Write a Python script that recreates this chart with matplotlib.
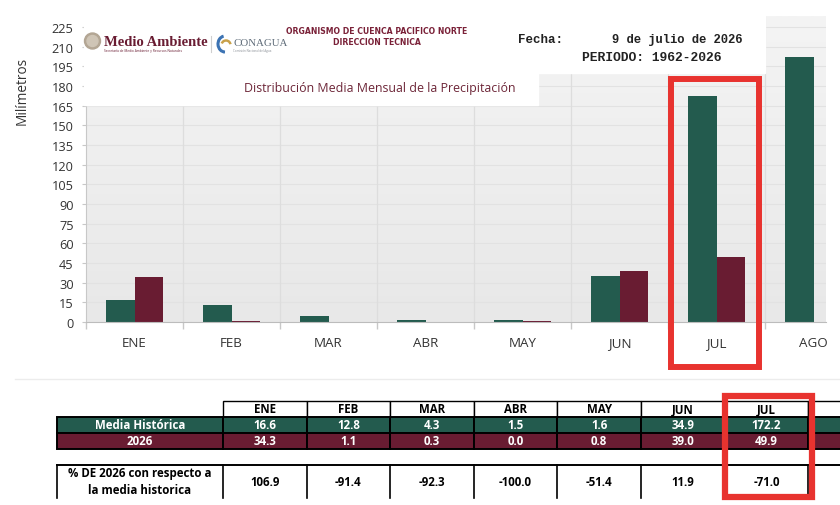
#!/usr/bin/env python3
import numpy as np
import matplotlib
matplotlib.use('Agg')
import matplotlib.pyplot as plt
from matplotlib.patches import Rectangle, Circle, Arc
from matplotlib.colors import LinearSegmentedColormap

matplotlib.rcParams.update({'font.family': ['Open Sans', 'DejaVu Sans']})

# datos
meses = ['ENE', 'FEB', 'MAR', 'ABR', 'MAY', 'JUN', 'JUL', 'AGO']
media_historica = [16.6, 12.8, 4.3, 1.5, 1.6, 34.9, 172.2, 202.0]
anio_2026 = [34.3, 1.1, 0.3, 0.0, 0.8, 39.0, 49.9]
porcentaje = [106.9, -91.4, -92.3, -100.0, -51.4, 11.9, -71.0]
yticks = list(range(0, 226, 15))

VERDE = '#235B4E'
GUINDA = '#691C32'
ROJO = '#e8332f'

W, H = 840, 506
fig = plt.figure(figsize=[W / 100, H / 100], dpi=100)
fig.patch.set_facecolor('white')

# --- grafica de barras ---
ax = fig.add_axes([86 / W, (H - 323) / H, (826 - 86) / W, (323 - 17) / H])
x = np.arange(len(meses))
xmin, xmax = -0.5, -0.5 + 740 / 97
ymax = 233.5

grad = LinearSegmentedColormap.from_list('fondo', ['#e8e8e8', '#f4f4f4'])
ax.imshow(np.linspace(0, 1, 256).reshape(-1, 1), cmap=grad, origin='lower',
          extent=[xmin, xmax, 0, ymax], aspect='auto', zorder=0)

for yv in yticks[1:]:
    ax.axhline(yv, color='#e2e2e2', lw=0.8, zorder=1)
for xv in np.arange(0.5, 7.5, 1):
    ax.axvline(xv, color='#dddddd', lw=0.9, zorder=1)

bw = 0.289
ax.bar(x - bw / 2, media_historica, width=bw, color=VERDE, zorder=2)
ax.bar(x[:len(anio_2026)] + bw / 2, anio_2026, width=bw, color=GUINDA, zorder=2)

ax.set_xlim(xmin, xmax)
ax.set_ylim(0, ymax)
ax.set_xticks(x)
ax.set_xticklabels(meses)
ax.set_xticks(np.arange(-0.5, 7.5, 1), minor=True)
ax.tick_params(axis='x', which='major', length=0, pad=10, labelsize=9.6, labelcolor='#333333')
ax.tick_params(axis='x', which='minor', length=5, color='#c8c8c8', width=1)
ax.set_yticks(yticks)
ax.tick_params(axis='y', length=3, color='#c8c8c8', pad=6, labelsize=9.2, labelcolor='#333333')
for s in ['top', 'right']:
    ax.spines[s].set_visible(False)
ax.spines['left'].set_color('#c8c8c8')
ax.spines['bottom'].set_color('#bcbcbc')
ax.set_ylabel('Milímetros', fontsize=9.8, color='#333333')
ax.yaxis.set_label_coords((30 - 86) / 740, (323 - 91) / 306)

# --- capa superior en pixeles ---
ov = fig.add_axes([0, 0, 1, 1], zorder=5)
ov.set_xlim(0, W)
ov.set_ylim(H, 0)
ov.axis('off')
ov.patch.set_alpha(0)

ov.add_patch(Rectangle((84, 0), 538 - 84, 106, color='white', zorder=1))
ov.add_patch(Rectangle((538, 0), 765 - 538, 74, color='white', zorder=1))

# logos
ov.add_patch(Circle((92.5, 42), 8, color='#b3a694', zorder=2))
ov.add_patch(Circle((92.5, 42), 5.5, color='#cfc5b6', zorder=3))
ov.text(104, 42, 'Medio Ambiente', family='Liberation Serif', weight='bold', fontsize=10.5,
        color=GUINDA, va='center', ha='left', zorder=3)
ov.text(104, 51, 'Secretaría de Medio Ambiente y Recursos Naturales', fontsize=2.3,
        color=GUINDA, va='center', ha='left', zorder=3)
ov.plot([211, 211], [37, 53], color='#cfcfcf', lw=0.8, zorder=3)
ov.add_patch(Arc((225, 45), 14, 16, theta1=90, theta2=260, color='#3c73b3', lw=2.2, zorder=3))
ov.add_patch(Arc((226, 46), 9, 9, theta1=200, theta2=350, color='#c9a14a', lw=1.8, zorder=3))
ov.text(233, 43, 'CONAGUA', family='Liberation Serif', fontsize=7.8, color='#5e6b78',
        va='center', ha='left', zorder=3)
ov.text(233, 51, 'Comisión Nacional del Agua', fontsize=2.2, color='#8a8f96',
        va='center', ha='left', zorder=3)

ov.text(377, 31, 'ORGANISMO DE CUENCA PACIFICO NORTE', family='Liberation Sans Narrow',
        weight='bold', fontsize=5.6, color='#7a2138', ha='center', va='center', zorder=3)
ov.text(377, 42.5, 'DIRECCION TECNICA', family='Liberation Sans Narrow',
        weight='bold', fontsize=5.6, color='#7a2138', ha='center', va='center', zorder=3)

ov.text(518, 40, 'Fecha:', family='Liberation Mono', weight='bold', fontsize=9,
        color='#222222', ha='left', va='center', zorder=3)
ov.text(742, 40, '9 de julio de 2026', family='Liberation Mono', weight='bold', fontsize=8.7,
        color='#222222', ha='right', va='center', zorder=3)
ov.text(582, 58, 'PERIODO: 1962-2026', family='Liberation Mono', weight='bold', fontsize=9.4,
        color='#222222', ha='left', va='center', zorder=3)

ov.text(380, 88, 'Distribución Media Mensual de la Precipitación', fontsize=8.9,
        color='#6d2638', ha='center', va='center', zorder=3)

# separador
ov.plot([15, 840], [380, 380], color='#ececec', lw=1, zorder=2)

# --- tabla ---
x0, xl, cw = 57, 223, 83.6
r_head, r_hist, r_2026, r_end = 402, 418, 434, 450
p_top, p_bot = 466, 499
ncol = len(meses)
fs = 8.3

for i in range(ncol):
    cx = xl + i * cw
    etiqueta = meses[i] if i < len(porcentaje) else ''
    ov.add_patch(Rectangle((cx, r_head), cw, r_hist - r_head, facecolor='white',
                           edgecolor='black', lw=1.0, zorder=3))
    ov.text(cx + cw / 2, (r_head + r_hist) / 2, etiqueta, weight='bold', fontsize=fs,
            ha='center', va='center', color='black', zorder=4)

filas = [(r_hist, r_2026, VERDE, 'Media Histórica', media_historica),
         (r_2026, r_end, GUINDA, '2026', anio_2026)]
for top, bot, col, nombre, vals in filas:
    ov.add_patch(Rectangle((x0, top), xl - x0, bot - top, facecolor=col,
                           edgecolor='black', lw=1.4, zorder=3))
    ov.text((x0 + xl) / 2, (top + bot) / 2, nombre, weight='bold', fontsize=fs,
            ha='center', va='center', color='white', zorder=4)
    for i in range(ncol):
        cx = xl + i * cw
        ov.add_patch(Rectangle((cx, top), cw, bot - top, facecolor=col,
                               edgecolor='black', lw=1.4, zorder=3))
        if i < len(porcentaje):
            ov.text(cx + cw / 2, (top + bot) / 2, f'{vals[i]:.1f}', weight='bold',
                    fontsize=fs, ha='center', va='center', color='white', zorder=4)

ov.plot([x0, W], [p_top, p_top], color='black', lw=1.4, zorder=3)
for xv in [x0, xl] + [xl + (i + 1) * cw for i in range(ncol - 1)]:
    ov.plot([xv, xv], [p_top, p_bot], color='black', lw=1.2, zorder=3)
ov.text((x0 + xl) / 2, 474, '% DE 2026 con respecto a', weight='bold', fontsize=fs,
        ha='center', va='center', color='black', zorder=4)
ov.text((x0 + xl) / 2, 491, 'la media historica', weight='bold', fontsize=fs,
        ha='center', va='center', color='black', zorder=4)
for i, v in enumerate(porcentaje):
    ov.text(xl + i * cw + cw / 2, 483, f'{v:.1f}', weight='bold', fontsize=fs,
            ha='center', va='center', color='black', zorder=4)

# recuadros rojos
ov.add_patch(Rectangle((670.5, 80), 88, 288, fill=False, edgecolor=ROJO, lw=4.3, zorder=6))
ov.add_patch(Rectangle((725, 397), 86.5, 101, fill=False, edgecolor=ROJO, lw=4.5, zorder=6))

fig.savefig('out.png', dpi=100)
